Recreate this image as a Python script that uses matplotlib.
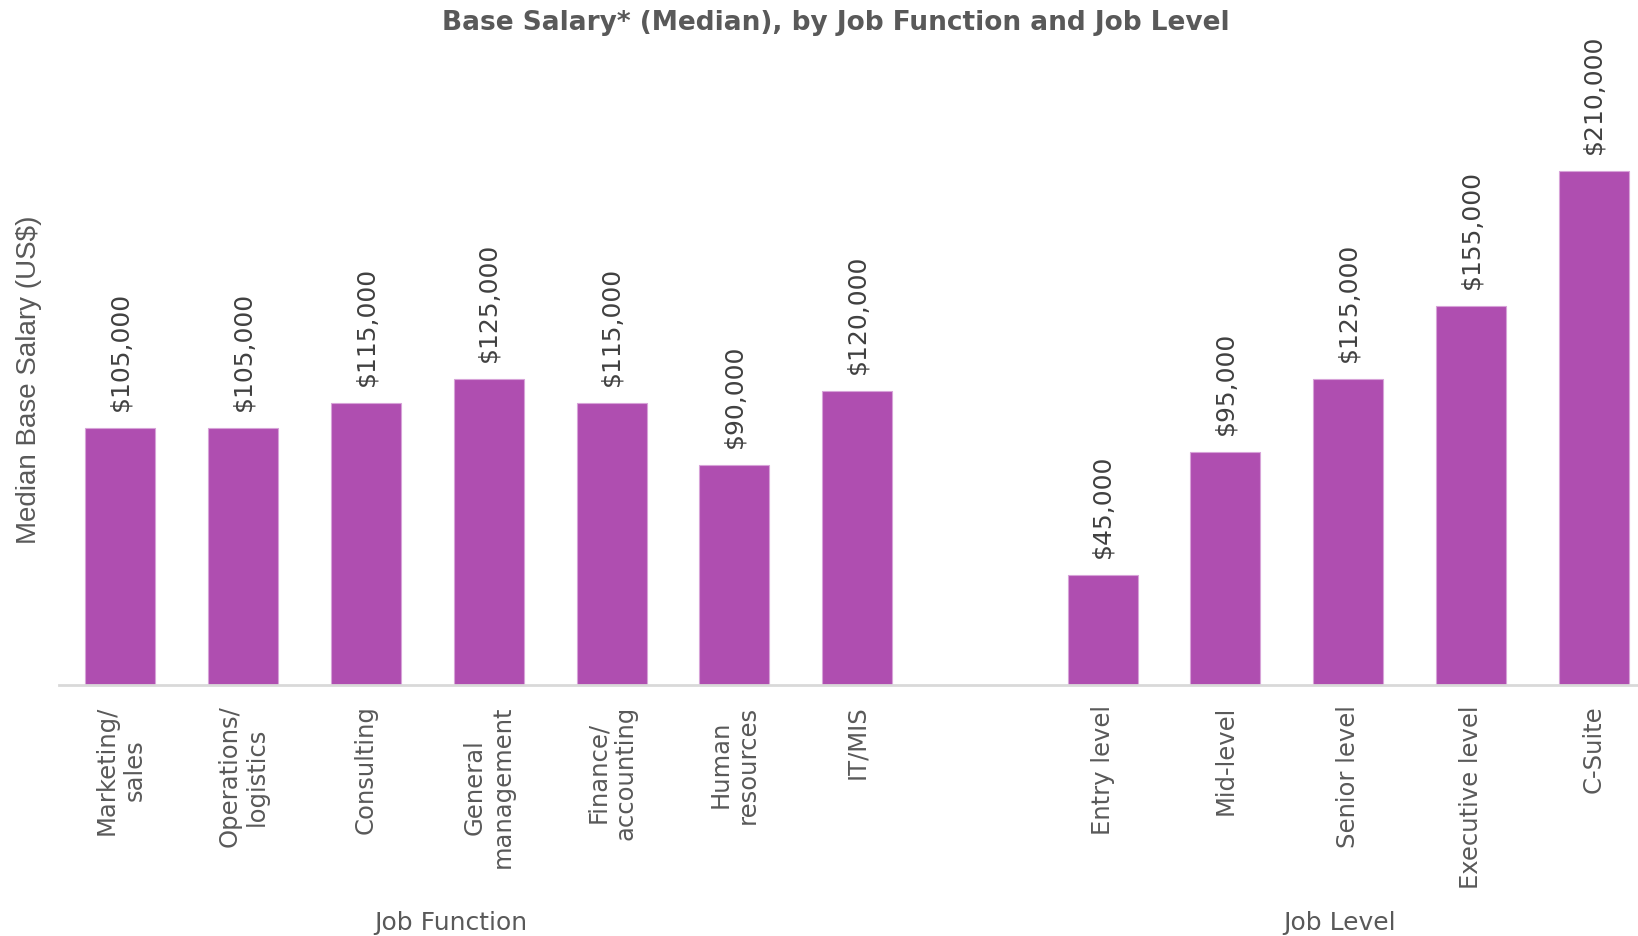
import numpy as np
import matplotlib.pyplot as plt
import matplotlib.transforms as mtransforms

# data
functions = ['Marketing/\nsales', 'Operations/\nlogistics', 'Consulting', 'General\nmanagement',
             'Finance/\naccounting', 'Human\nresources', 'IT/MIS']
function_salary = [105000, 105000, 115000, 125000, 115000, 90000, 120000]
levels = ['Entry level', 'Mid-level', 'Senior level', 'Executive level', 'C-Suite']
level_salary = [45000, 95000, 125000, 155000, 210000]

bar_color = '#AF4EB0'
text_dark = '#404040'
text_grey = '#595959'

# one empty slot between the two groups
x_func = np.arange(len(functions))
x_level = np.arange(len(levels)) + len(functions) + 1
xs = np.concatenate([x_func, x_level])
vals = function_salary + level_salary
labels = functions + levels

fig = plt.figure(figsize=(16.38, 9.37), dpi=100)
ax = fig.add_axes([59 / 1638, (937 - 686) / 937, 1 - 59 / 1638, 612 / 937])

bars = ax.bar(xs, vals, width=0.57, color=bar_color, edgecolor='#d7a3d8', linewidth=0.8)
for x, v in zip(xs, vals):
    ax.annotate('${:,.0f}'.format(v), (x, v), xytext=(0, 13), textcoords='offset points',
                rotation=90, ha='center', va='bottom', fontsize=18, color=text_dark)

ax.set_xlim(-0.5, 12.36)
ax.set_ylim(0, 250000)
ax.set_xticks(xs)
ax.set_xticklabels(labels, rotation=90, ha='center', va='top', multialignment='center',
                   fontsize=17.5, color=text_grey)
ax.tick_params(axis='x', length=0, pad=14)
ax.set_yticks([])
for s in ['top', 'right', 'left']:
    ax.spines[s].set_visible(False)
ax.spines['bottom'].set_color('#d9d9d9')
ax.spines['bottom'].set_linewidth(2)

ax.set_ylabel('Median Base Salary (US$)', fontsize=20, color=text_grey,
              family='Liberation Sans', labelpad=12)

# group labels (x in data, y in figure)
trans = mtransforms.blended_transform_factory(ax.transData, fig.transFigure)
ax.text(2.69, 1 - 923 / 937, 'Job Function', transform=trans,
        ha='center', va='center', fontsize=18, color=text_grey)
ax.text(9.93, 1 - 923 / 937, 'Job Level', transform=trans,
        ha='center', va='center', fontsize=18, color=text_grey)

fig.text(836 / 1638, 1 - 23 / 937, 'Base Salary* (Median), by Job Function and Job Level',
         ha='center', va='center', fontsize=19, fontweight='bold', color=text_grey)

fig.savefig('out.png', dpi=100)
